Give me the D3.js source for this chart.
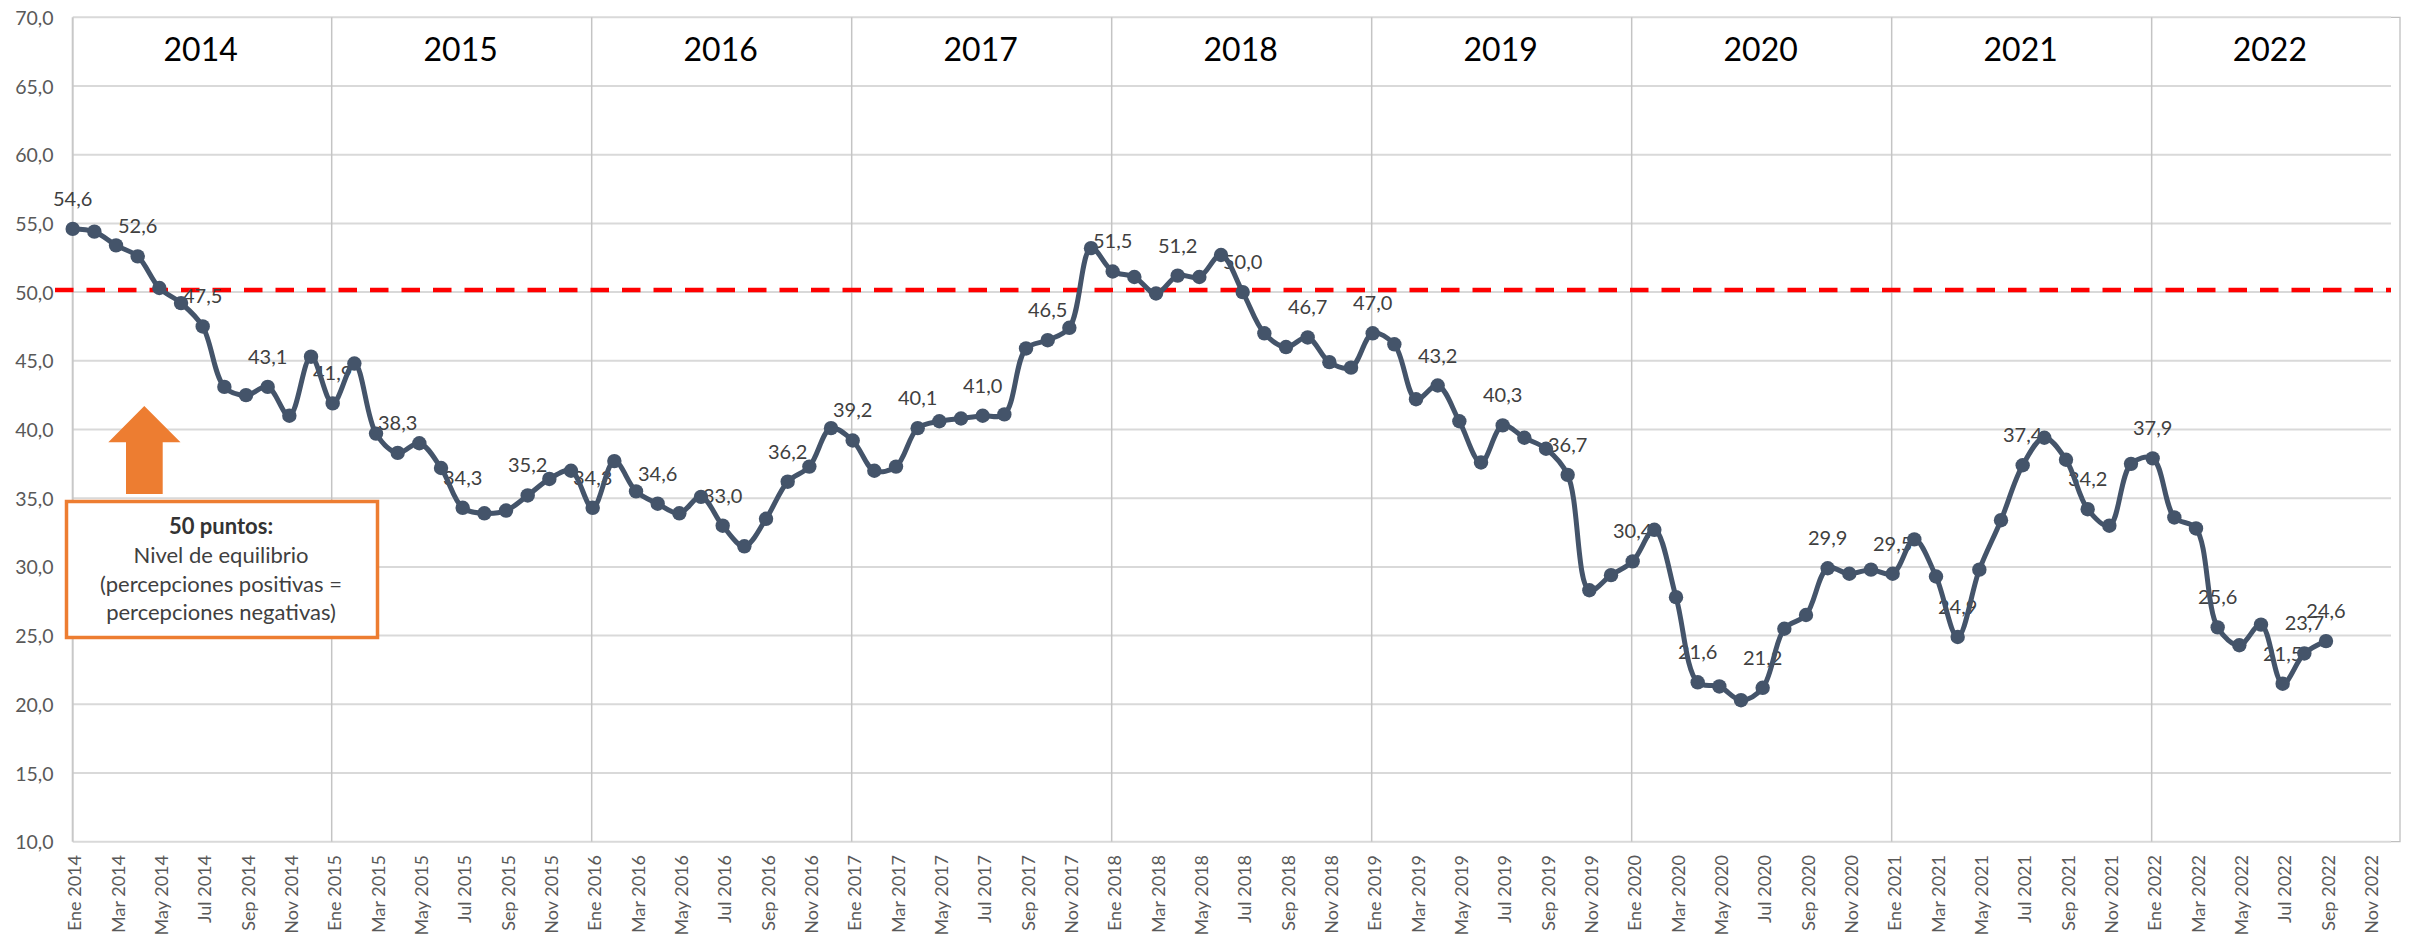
<!DOCTYPE html>
<html>
<head>
<meta charset="utf-8">
<script src="https://cdn.jsdelivr.net/npm/d3@7"></script>
<style>
  html, body { margin: 0; padding: 0; background: #fff; }
  svg { display: block; }
</style>
</head>
<body>
<svg id="chart" width="2412" height="937"></svg>
<script>
// ---------------- DATA ----------------
const years = ["2014","2015","2016","2017","2018","2019","2020","2021","2022"];
const monthNames = ["Ene","Feb","Mar","Abr","May","Jun","Jul","Ago","Sep","Oct","Nov","Dic"];
// categories: Ene 2014 ... Dic 2022
const categories = years.flatMap(yr => monthNames.map(m => m + " " + yr));

// monthly index values (Ene 2014 - Sep 2022)
const values2014 = [54.6, 54.4, 53.4, 52.6, 50.3, 49.2, 47.5, 43.1, 42.5, 43.1, 41.0, 45.3];
const values2015 = [41.9, 44.8, 39.7, 38.3, 39.0, 37.2, 34.3, 33.9, 34.1, 35.2, 36.4, 37.0];
const values2016 = [34.3, 37.7, 35.5, 34.6, 33.9, 35.1, 33.0, 31.5, 33.5, 36.2, 37.3, 40.1];
const values2017 = [39.2, 37.0, 37.3, 40.1, 40.6, 40.8, 41.0, 41.1, 45.9, 46.5, 47.4, 53.2];
const values2018 = [51.5, 51.1, 49.9, 51.2, 51.1, 52.7, 50.0, 47.0, 46.0, 46.7, 44.9, 44.5];
const values2019 = [47.0, 46.2, 42.2, 43.2, 40.6, 37.6, 40.3, 39.4, 38.6, 36.7, 28.3, 29.4];
const values2020 = [30.4, 32.7, 27.8, 21.6, 21.3, 20.3, 21.2, 25.5, 26.5, 29.9, 29.5, 29.8];
const values2021 = [29.5, 32.0, 29.3, 24.9, 29.8, 33.4, 37.4, 39.4, 37.8, 34.2, 33.0, 37.5];
const values2022 = [37.9, 33.6, 32.8, 25.6, 24.3, 25.8, 21.5, 23.7, 24.6];
const values = [].concat(values2014, values2015, values2016, values2017, values2018,
                         values2019, values2020, values2021, values2022);

// months that carry a data label
const labeledMonths = categories.filter((c, i) => i < values.length && (i % 3 === 0)).concat(["Ago 2022", "Sep 2022"]);

// x tick labels: every second month
const xTickLabels = categories.filter((c, i) => i % 2 === 0);
const yTicks = [10, 15, 20, 25, 30, 35, 40, 45, 50, 55, 60, 65, 70];
const equilibrium = 50;

const noteTitle = "50 puntos:";
const noteLines = ["Nivel de equilibrio", "(percepciones positivas =", "percepciones negativas)"];

// ---------------- LAYOUT ----------------
const svg = d3.select("#chart");
const pLeft = 72.7, pRight = 2391, pTop = 17.3, pBottom = 841.7;
const x = d3.scalePoint().domain(categories).range([pLeft, pRight]);
const y = d3.scaleLinear().domain([10, 70]).range([pBottom, pTop]);
const fmt = v => d3.format(".1f")(v).replace(".", ",");
const FONT = "Lato, 'Open Sans', sans-serif";

const pts = values.map((v, i) => ({ cat: categories[i], v }));

// horizontal gridlines
svg.append("g").selectAll("line").data(yTicks).join("line")
  .attr("x1", pLeft).attr("x2", pRight)
  .attr("y1", d => y(d)).attr("y2", d => y(d))
  .attr("stroke", "#D9D9D9").attr("stroke-width", 2);

// vertical year gridlines
const yearStarts = years.map(yr => "Ene " + yr);
svg.append("g").selectAll("line").data(yearStarts.slice(1)).join("line")
  .attr("x1", d => x(d) - 1).attr("x2", d => x(d) - 1)
  .attr("y1", pTop).attr("y2", pBottom)
  .attr("stroke", "#C4C4C4").attr("stroke-width", 1.5);

// left axis line
svg.append("line").attr("x1", pLeft).attr("x2", pLeft).attr("y1", pTop).attr("y2", pBottom)
  .attr("stroke", "#C8C8C8").attr("stroke-width", 2);

// right frame
svg.append("path")
  .attr("d", `M${pRight},${pTop}H2400V${pBottom}H${pRight}`)
  .attr("fill", "none").attr("stroke", "#BFBFBF").attr("stroke-width", 1.3);

// y tick labels
svg.append("g").selectAll("text").data(yTicks).join("text")
  .attr("x", 53.5).attr("y", d => y(d))
  .attr("text-anchor", "end").attr("dominant-baseline", "central")
  .attr("font-family", FONT).attr("font-size", 19.5).attr("fill", "#595959")
  .text(d => fmt(d));

// x tick labels (rotated)
svg.append("g").selectAll("text").data(xTickLabels).join("text")
  .attr("transform", d => `translate(${x(d) + 1.5},855) rotate(-90)`)
  .attr("text-anchor", "end").attr("dominant-baseline", "central")
  .attr("font-family", FONT).attr("font-size", 18).attr("fill", "#595959")
  .text(d => d);

// year labels
svg.append("g").selectAll("text").data(years).join("text")
  .attr("x", (d, i) => {
    const a = x("Ene " + d);
    const b = i < years.length - 1 ? x("Ene " + years[i + 1]) : pRight;
    return (a + b) / 2 - 2;
  })
  .attr("y", 48).attr("text-anchor", "middle").attr("dominant-baseline", "central")
  .attr("font-family", FONT).attr("font-size", 32).attr("fill", "#000")
  .text(d => d);

// equilibrium dashed line
svg.append("line")
  .attr("x1", 55).attr("x2", pRight)
  .attr("y1", y(equilibrium) - 2).attr("y2", y(equilibrium) - 2)
  .attr("stroke", "#FF0000").attr("stroke-width", 4.5)
  .attr("stroke-dasharray", "18.5,13");

// data labels (beneath the line, as in the reference)
svg.append("g").selectAll("text").data(pts.filter(p => labeledMonths.includes(p.cat))).join("text")
  .attr("x", p => x(p.cat)).attr("y", p => y(p.v) - 23)
  .attr("text-anchor", "middle")
  .attr("font-family", FONT).attr("font-size", 20).attr("fill", "#404040")
  .text(p => fmt(p.v));

// series line
const line = d3.line().x(p => x(p.cat)).y(p => y(p.v)).curve(d3.curveCatmullRom.alpha(0.5));
svg.append("path").datum(pts).attr("d", line)
  .attr("fill", "none").attr("stroke", "#44546A").attr("stroke-width", 5)
  .attr("stroke-linejoin", "round");

// markers
svg.append("g").selectAll("circle").data(pts).join("circle")
  .attr("cx", p => x(p.cat)).attr("cy", p => y(p.v)).attr("r", 7.2)
  .attr("fill", "#44546A");

// orange arrow
svg.append("path")
  .attr("d", "M144.3,406 L180.5,442.3 L162.7,442.3 L162.7,494 L126,494 L126,442.3 L108.3,442.3 Z")
  .attr("fill", "#ED7D31");

// note box
svg.append("rect")
  .attr("x", 66.5).attr("y", 501.5).attr("width", 311).attr("height", 136)
  .attr("fill", "#fff").attr("stroke", "#ED7D31").attr("stroke-width", 3.5);

const noteX = 221;
svg.append("text").attr("x", noteX).attr("y", 534)
  .attr("text-anchor", "middle").attr("font-family", FONT).attr("font-size", 22)
  .attr("font-weight", "bold").attr("fill", "#333")
  .text(noteTitle);
svg.append("g").selectAll("text").data(noteLines).join("text")
  .attr("x", noteX).attr("y", (d, i) => 563 + i * 28.7)
  .attr("text-anchor", "middle").attr("font-family", FONT).attr("font-size", 22)
  .attr("fill", "#404040")
  .text(d => d);
</script>
</body>
</html>
